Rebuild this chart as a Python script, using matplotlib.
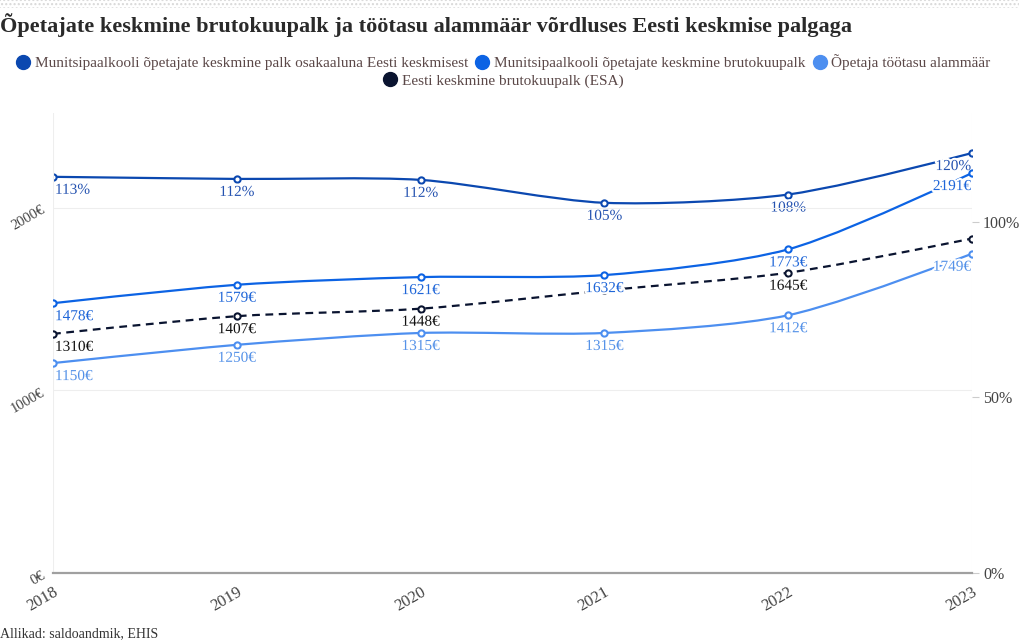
import numpy as np
import matplotlib.pyplot as plt
from matplotlib.path import Path
from matplotlib.patches import PathPatch, Rectangle
from matplotlib.lines import Line2D
import matplotlib.patheffects as pe

plt.rcParams['font.family'] = ['Liberation Serif', 'DejaVu Serif']

years = [2018, 2019, 2020, 2021, 2022, 2023]
teacher = [1478, 1579, 1621, 1632, 1773, 2191]      # munitsipaalkooli õpetajate keskmine brutokuupalk
min_wage = [1150, 1250, 1315, 1315, 1412, 1749]     # õpetaja töötasu alammäär
esa = [1310, 1407, 1448, 1548, 1645, 1832]          # Eesti keskmine brutokuupalk
esa_shown = [True, True, True, False, True, False]  # labels visible in the original
share = [t / e * 100 for t, e in zip(teacher, esa)]

names = ["Munitsipaalkooli õpetajate keskmine palk osakaaluna Eesti keskmisest",
         "Munitsipaalkooli õpetajate keskmine brutokuupalk",
         "Õpetaja töötasu alammäär",
         "Eesti keskmine brutokuupalk (ESA)"]
colors = ["#0b48b0", "#0c63e4", "#4d8ff0", "#0a1430"]
label_colors = ["#2452b0", "#1f66d8", "#5592e8", "#111111"]

W, H = 1020, 644
fig = plt.figure(figsize=(W / 100, H / 100), dpi=100)
ax = fig.add_axes([53 / W, (H - 573) / H, (972 - 53) / W, (573 - 113) / H])
ax2 = ax.twinx()

ax.set_xlim(2018, 2023)
ax.set_ylim(0, 2520)
ax2.set_ylim(0, 131)

for a in (ax, ax2):
    for s in a.spines.values():
        s.set_visible(False)
    a.patch.set_visible(False)
ax.spines['bottom'].set_visible(True)
ax.spines['bottom'].set_color('#a0a0a0')
ax.spines['bottom'].set_linewidth(1.6)
ax.set_zorder(2)
ax2.set_zorder(1)

# grid
for y in (1000, 2000):
    ax.axhline(y, color='#eeeeee', lw=0.8, zorder=0)
for x in (2018, 2023):
    ax.axvline(x, color='#eeeeee', lw=0.8, zorder=0)

ax.set_xticks(years)
ax.set_xticklabels([str(y) for y in years], rotation=30, ha='right',
                   rotation_mode='anchor', fontsize=12, color='#444444')
ax.tick_params(axis='x', length=0, pad=8)
ax.set_yticks([0, 1000, 2000])
ax.set_yticklabels(['0€', '1000€', '2000€'], rotation=30, ha='right',
                   rotation_mode='anchor', fontsize=10.5, color='#444444')
ax.tick_params(axis='y', length=0, pad=7)
ax2.set_yticks([0, 50, 100])
ax2.set_yticklabels(['0%', '50%', '100%'], fontsize=11.5, color='#444444')
ax2.tick_params(axis='y', length=5, color='#cccccc', pad=3)

SMOOTH = 0.8


def spline(a, xs, ys, color, ls='-', z=3):
    # plotly-style spline computed in pixel space
    pts = a.transData.transform(np.column_stack([xs, ys]))
    tang = []
    for i in range(1, len(pts) - 1):
        p, t, n = pts[i - 1], pts[i], pts[i + 1]
        d1 = p - t
        d2 = n - t
        d1a = np.hypot(*d1) ** 0.5
        d2a = np.hypot(*d2) ** 0.5
        num = (d2a * d2a * d1 - d1a * d1a * d2) * SMOOTH
        den1 = 3 * d2a * (d1a + d2a)
        den2 = 3 * d1a * (d1a + d2a)
        tang.append((t + num / den1, t - num / den2))
    verts = [pts[0]]
    codes = [Path.MOVETO]
    verts += [tang[0][0], pts[1]]
    codes += [Path.CURVE3, Path.CURVE3]
    for i in range(2, len(pts) - 1):
        verts += [tang[i - 2][1], tang[i - 1][0], pts[i]]
        codes += [Path.CURVE4] * 3
    verts += [tang[-1][1], pts[-1]]
    codes += [Path.CURVE3, Path.CURVE3]
    verts = a.transData.inverted().transform(np.array(verts))
    patch = PathPatch(Path(verts, codes), facecolor='none', edgecolor=color,
                      lw=1.6, zorder=z, transform=a.transData)
    if ls == '--':
        patch.set_linestyle((0, (3.5, 2.5)))
    a.add_patch(patch)
    a.plot(xs, ys, 'o', ms=4.5, mfc='white', mec=color, mew=1.5, zorder=z + 1)


def labels(a, xs, ys, texts, color, shown=None):
    for i, (x, y, s) in enumerate(zip(xs, ys, texts)):
        if shown is not None and not shown[i]:
            continue
        ha = 'left' if i == 0 else ('right' if i == len(xs) - 1 else 'center')
        dx = 2 if i == 0 else (-1 if i == len(xs) - 1 else 0)
        a.annotate(s, (x, y), xytext=(dx, -7), textcoords='offset pixels',
                   ha=ha, va='top', fontsize=11, color=color, zorder=10,
                   path_effects=[pe.withStroke(linewidth=3, foreground='white')])


fig.canvas.draw()
spline(ax, years, esa, colors[3], ls='--')
spline(ax, years, min_wage, colors[2])
spline(ax, years, teacher, colors[1])
spline(ax2, years, share, colors[0])

labels(ax, years, esa, [f"{v}€" for v in esa], label_colors[3], esa_shown)
labels(ax, years, min_wage, [f"{v}€" for v in min_wage], label_colors[2])
labels(ax, years, teacher, [f"{v}€" for v in teacher], label_colors[1])
labels(ax2, years, share, [f"{round(v)}%" for v in share], label_colors[0])

# title, source, top band
fig.text(0, 1 - 25 / H, "Õpetajate keskmine brutokuupalk ja töötasu alammäär võrdluses Eesti keskmise palgaga",
         fontsize=16, fontweight='bold', color='#2a2a2a', va='center', ha='left')
fig.text(0, 1 - 634 / H, "Allikad: saldoandmik, EHIS", fontsize=10, color='#333333',
         va='center', ha='left')
fig.add_artist(Rectangle((0, 1 - 8 / H), 1, 8 / H, transform=fig.transFigure,
                         facecolor='white', edgecolor='#d8d8d8', hatch='....', lw=0))

handles = [Line2D([], [], ls='none', marker='o', ms=10, mfc=c, mec=c) for c in colors]
leg_kw = dict(frameon=False, fontsize=11, handletextpad=0.25, columnspacing=0.43,
              handlelength=1.0, borderaxespad=0, borderpad=0, labelcolor='#5b4848')
fig.legend(handles[:3], names[:3], ncol=3, loc='center',
           bbox_to_anchor=(503 / W, 1 - 62 / H), **leg_kw)
fig.legend(handles[3:], names[3:], ncol=1, loc='center',
           bbox_to_anchor=(503 / W, 1 - 81 / H), **leg_kw)

fig.savefig('out.png', dpi=100)
